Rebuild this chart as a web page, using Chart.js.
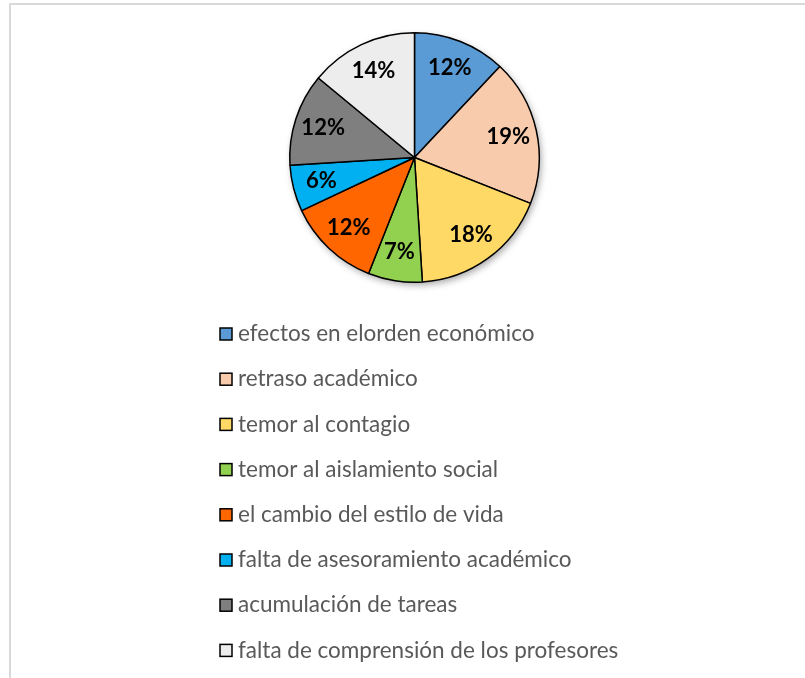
<!DOCTYPE html>
<html>
<head>
<meta charset="utf-8">
<script src="https://cdn.jsdelivr.net/npm/chart.js@4.4.0/dist/chart.umd.min.js"></script>
<style>
  html, body { margin: 0; padding: 0; background: #fff; }
  #wrap { position: relative; width: 805px; height: 678px; overflow: hidden; }
  #frame { position: absolute; left: 9px; top: 3px; width: 820px; height: 700px;
           border-left: 2px solid #d9d9d9; border-top: 2px solid #d9d9d9; box-sizing: border-box; }
  canvas { position: absolute; left: 0; top: 0; }
</style>
</head>
<body>
<div id="wrap">
  <div id="frame"></div>
  <canvas id="pieChart" width="805" height="678"></canvas>
</div>
<script>
const categories = [
    "efectos en elorden económico",
    "retraso académico",
    "temor al contagio",
    "temor al aislamiento social",
    "el cambio del estilo de vida",
    "falta de asesoramiento académico",
    "acumulación de tareas",
    "falta de comprensión de los profesores"
];
const percentages = [12, 19, 18, 7, 12, 6, 12, 14];
const sliceColors = ["#5B9BD5", "#F8CBAD", "#FFD966", "#92D050", "#FF6600", "#00B0F0", "#7F7F7F", "#EDEDED"];

// shadow under the pie, like the Excel original
const pieShadow = {
    id: "pieShadow",
    beforeDatasetsDraw(chart) {
        const arc = chart.getDatasetMeta(0).data[0];
        if (!arc) return;
        const ctx = chart.ctx;
        ctx.save();
        ctx.shadowColor = "rgba(0,0,0,0.35)";
        ctx.shadowBlur = 7;
        ctx.shadowOffsetX = 2;
        ctx.shadowOffsetY = 3;
        ctx.fillStyle = "#fff";
        ctx.beginPath();
        ctx.arc(arc.x, arc.y, arc.outerRadius, 0, Math.PI * 2);
        ctx.fill();
        ctx.restore();
    }
};

// percentage labels inside the slices
const sliceLabels = {
    id: "sliceLabels",
    afterDatasetsDraw(chart) {
        const ctx = chart.ctx;
        const meta = chart.getDatasetMeta(0);
        ctx.save();
        ctx.font = "bold 22px Lato";
        ctx.fillStyle = "#000";
        ctx.textAlign = "center";
        ctx.textBaseline = "middle";
        meta.data.forEach((arc, i) => {
            const mid = (arc.startAngle + arc.endAngle) / 2;
            const r = arc.outerRadius * 0.77;
            ctx.fillText(percentages[i] + "%", arc.x + Math.cos(mid) * r, arc.y + Math.sin(mid) * r);
        });
        ctx.restore();
    }
};

// vertical legend below the pie
const columnLegend = {
    id: "columnLegend",
    afterDraw(chart) {
        const ctx = chart.ctx;
        const left = 220, top = 334, rowGap = 45.2, box = 12;
        ctx.save();
        ctx.font = "22.5px Lato";
        ctx.textBaseline = "middle";
        chart.data.labels.forEach((label, i) => {
            const y = top + i * rowGap;
            ctx.fillStyle = chart.data.datasets[0].backgroundColor[i];
            ctx.fillRect(left, y - box / 2, box, box);
            ctx.lineWidth = 1.5;
            ctx.strokeStyle = "#000";
            ctx.strokeRect(left, y - box / 2, box, box);
            ctx.fillStyle = "#595959";
            ctx.fillText(label, left + 18, y);
        });
        ctx.restore();
    }
};

new Chart(document.getElementById("pieChart").getContext("2d"), {
    type: "pie",
    data: {
        labels: categories,
        datasets: [{
            data: percentages,
            backgroundColor: sliceColors,
            borderColor: "#000",
            borderWidth: 1.5
        }]
    },
    options: {
        responsive: false,
        animation: false,
        layout: { padding: { left: 24, right: 0, top: 32, bottom: 395 } },
        plugins: {
            legend: { display: false },
            tooltip: { enabled: false }
        }
    },
    plugins: [pieShadow, sliceLabels, columnLegend]
});
</script>
</body>
</html>
